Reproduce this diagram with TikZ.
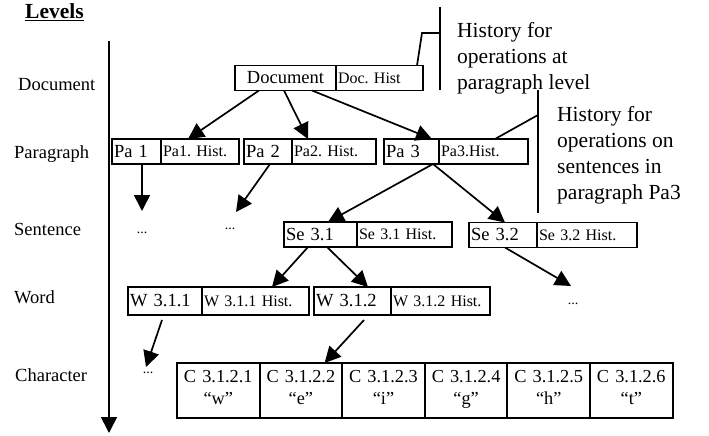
\documentclass[tikz,border=0pt]{standalone}
\usepackage{fontspec}
\setmainfont{Liberation Serif}
\usetikzlibrary{arrows.meta,positioning}
\frenchspacing
\begin{document}
\begin{tikzpicture}[x=1pt,y=1pt,
	cell/.style={draw,line width=1.9pt,outer sep=0pt,inner sep=2pt,minimum height=25pt,text width=#1,align=left,anchor=west,font=\fontsize{18.5}{22}\selectfont},
	hist/.style={cell=#1,font=\fontsize{16}{19}\selectfont},
	chr/.style={cell=#1,minimum height=55pt,align=center,font=\fontsize{18.3}{22}\selectfont},
	lvl/.style={anchor=base west,inner sep=0pt,font=\fontsize{18.5}{22}\selectfont},
	note/.style={anchor=north west,inner sep=0pt,align=left,font=\fontsize{21.5}{26}\selectfont},
	dots/.style={anchor=base,inner sep=0pt,font=\fontsize{14}{16}\selectfont},
	link/.style={line width=1.7pt,-{Triangle[width=16pt,length=16pt]}},
	tag/.style={line width=1.7pt}]
		\useasboundingbox (0,0) rectangle (709,-436);
		\node[anchor=base west,inner sep=0pt,font=\fontsize{21.5}{26}\selectfont\bfseries] (title) at (25,-19) {\underline{Levels}};
		\node[lvl] (ldoc) at (18,-90) {Document};
		\node[lvl] (lpar) at (14,-158) {Paragraph};
		\node[lvl] (lsen) at (14,-235) {Sentence};
		\node[lvl] (lwrd) at (14,-303) {Word};
		\node[lvl] (lchr) at (15,-381) {Character};
		\coordinate (axtop) at (109,-41);
		\coordinate (axbot) at (109,-433);
		\draw[link] (axtop) -- (axbot);
		% document level
		\node[cell=97pt,align=center] (doc) at (235,-78) {Document};
		\node[hist=83pt,right=0pt of doc] (dochist) {Doc. Hist};
		% paragraphs
		\node[cell=45pt] (pa1) at (112,-151.5) {Pa 1};
		\node[hist=74pt,right=0pt of pa1] (pa1h) {Pa1. Hist.};
		\node[cell=44pt] (pa2) at (244,-151.5) {Pa 2};
		\node[hist=80pt,right=0pt of pa2] (pa2h) {Pa2. Hist.};
		\node[cell=51pt] (pa3) at (384,-151.5) {Pa 3};
		\node[hist=85pt,right=0pt of pa3] (pa3h) {Pa3.Hist.};
		% sentences
		\node[cell=69pt] (se31) at (284,-234.5) {Se 3.1};
		\node[hist=91pt,right=0pt of se31] (se31h) {Se 3.1 Hist.};
		\node[cell=64pt] (se32) at (469,-235) {Se 3.2};
		\node[hist=96pt,right=0pt of se32] (se32h) {Se 3.2 Hist.};
		% words
		\node[cell=70pt,minimum height=28pt] (w311) at (128,-301) {W 3.1.1};
		\node[hist=103pt,minimum height=28pt,right=0pt of w311] (w311h) {W 3.1.1 Hist.};
		\node[cell=73pt,minimum height=28pt] (w312) at (314,-301) {W 3.1.2};
		\node[hist=95pt,minimum height=28pt,right=0pt of w312] (w312h) {W 3.1.2 Hist.};
		% characters
		\node[chr=78.6pt] (c1) at (177,-390.5) {C 3.1.2.1\\“w”\strut};
		\node[chr=78.6pt,right=0pt of c1] (c2) {C 3.1.2.2\\“e”\strut};
		\node[chr=78.6pt,right=0pt of c2] (c3) {C 3.1.2.3\\“i”\strut};
		\node[chr=78.6pt,right=0pt of c3] (c4) {C 3.1.2.4\\“g”\strut};
		\node[chr=78.6pt,right=0pt of c4] (c5) {C 3.1.2.5\\“h”\strut};
		\node[chr=78.6pt,right=0pt of c5] (c6) {C 3.1.2.6\\“t”\strut};
		% omitted parts
		\node[dots] (d1) at (142,-233) {...};
		\node[dots] (d2) at (230,-229) {...};
		\node[dots] (d3) at (573,-304) {...};
		\node[dots] (d4) at (148,-373) {...};
		\coordinate (e1) at (142,-211);
		\coordinate (e2) at (236,-212);
		\coordinate (e3) at (571,-286);
		\coordinate (e4) at (146,-367);
		% tree arrows
		\draw[link] ([xshift=24pt]doc.south west) -- ([xshift=27pt]pa1h.north west);
		\draw[link] ([xshift=49pt]doc.south west) -- ([xshift=16pt]pa2h.north west);
		\draw[link] ([xshift=77pt]doc.south west) -- ([xshift=48pt]pa3.north west);
		\draw[link] ([xshift=30pt]pa1.south west) -- (e1);
		\draw[link] ([xshift=26pt]pa2.south west) -- (e2);
		\draw[link] ([xshift=-6pt]pa3.south east) -- ([xshift=44pt]se31.north west);
		\draw[link] ([xshift=-6pt]pa3.south east) -- ([xshift=36pt]se32.north west);
		\draw[link] ([xshift=24pt]se31.south west) -- ([xshift=70pt]w311h.north west);
		\draw[link] ([xshift=43pt]se31.south west) -- ([xshift=54pt]w312.north west);
		\draw[link] ([xshift=36pt]se32.south west) -- (e3);
		\draw[link] ([xshift=34pt,yshift=-5pt]w311.south west) -- (e4);
		\draw[link] ([xshift=50pt,yshift=-5pt]w312.south west) -- ([xshift=65pt]c2.north west);
		% history notes
		\coordinate (b1top) at (440,-7);
		\coordinate (b1bot) at (440,-90);
		\coordinate (k1) at (422,-33);
		\draw[tag] (b1top) -- (b1bot);
		\draw[tag] ([xshift=81pt]dochist.north west) -- (k1) -- (k1 -| b1top);
		\node[note] (n1) at (457,-22) {History for\\operations at\\paragraph level};
		\coordinate (b2top) at (538,-90);
		\coordinate (b2bot) at (538,-213);
		\coordinate (k2) at (538,-115);
		\draw[tag] (b2top) -- (b2bot);
		\draw[tag] ([xshift=56pt]pa3h.north west) -- (k2);
		\node[note] (n2) at (557,-106) {History for\\operations on\\sentences in\\paragraph Pa3};
\end{tikzpicture}
\end{document}
